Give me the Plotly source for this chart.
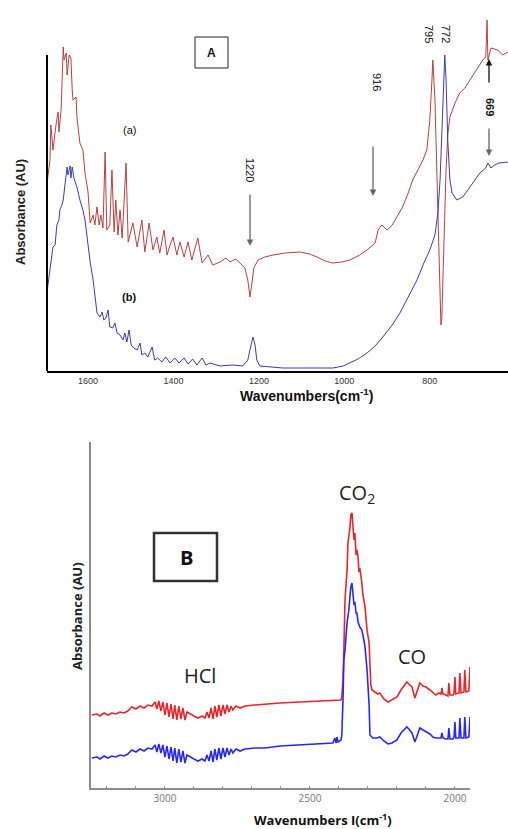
import plotly.graph_objects as go

W, H = 508, 829

# ---------------- Panel A data (wavenumber cm-1, absorbance AU) ----------------
a_red_wn = [1696, 1689, 1687, 1682, 1675, 1670, 1668, 1663, 1658, 1656, 1651, 1649, 1644, 1640, 1637, 1635,
            1628, 1626, 1619, 1612, 1607, 1600, 1595, 1588, 1584, 1579, 1574, 1570, 1565, 1560, 1556, 1549,
            1544, 1539, 1535, 1530, 1525, 1520, 1511, 1506, 1495, 1485, 1474, 1467, 1457, 1448, 1439, 1432,
            1422, 1415, 1408, 1401, 1392, 1385, 1375, 1366, 1357, 1343, 1333, 1319, 1308, 1291, 1277, 1268,
            1254, 1244, 1233, 1226, 1221, 1216, 1212, 1202, 1186, 1167, 1139, 1104, 1081, 1064, 1045, 1027,
            1006, 987, 964, 947, 928, 921, 912, 905, 900, 888, 877, 865, 854, 840, 828, 816,
            807, 800, 795, 793, 788, 784, 779, 774, 772, 767, 762, 758, 753, 741, 730, 718,
            706, 690, 676, 669, 666, 664, 657, 641, 630, 617]
a_red_abs = [187, 210, 245, 220, 245, 258, 238, 260, 323, 310, 317, 295, 315, 312, 280, 270,
             273, 253, 227, 220, 197, 178, 147, 155, 145, 163, 145, 155, 142, 218, 140, 145,
             200, 138, 170, 135, 160, 132, 207, 128, 147, 123, 150, 118, 147, 120, 133, 117,
             140, 115, 125, 133, 115, 128, 113, 128, 110, 132, 107, 115, 105, 108, 112, 108,
             111, 107, 102, 90, 73, 88, 102, 110, 113, 115, 117, 118, 116, 113, 109, 107,
             108, 110, 115, 120, 127, 140, 145, 142, 140, 145, 153, 162, 173, 190, 200, 210,
             220, 250, 290, 310, 270, 200, 110, 45, 50, 140, 200, 235, 253, 267, 277, 282,
             290, 302, 310, 313, 350, 310, 322, 320, 315, 318]

a_blue_wn = [1696, 1691, 1687, 1682, 1677, 1673, 1668, 1666, 1661, 1658, 1654, 1649, 1647, 1642, 1640, 1637,
             1633, 1626, 1619, 1612, 1607, 1600, 1595, 1588, 1584, 1579, 1572, 1567, 1563, 1558, 1553, 1549,
             1542, 1537, 1532, 1525, 1518, 1514, 1509, 1504, 1499, 1493, 1485, 1478, 1474, 1467, 1460, 1450,
             1444, 1437, 1427, 1418, 1408, 1397, 1387, 1375, 1366, 1355, 1345, 1333, 1324, 1315, 1291, 1261,
             1238, 1226, 1221, 1214, 1209, 1205, 1198, 1144, 1081, 1027, 1003, 987, 968, 947, 928, 910,
             888, 870, 851, 830, 814, 800, 788, 781, 776, 772, 767, 765, 762, 758, 753, 748,
             737, 723, 706, 683, 669, 664, 661, 657, 648, 638, 617]
a_blue_abs = [78, 95, 108, 123, 125, 145, 150, 160, 165, 170, 185, 203, 195, 204, 192, 203,
              192, 183, 170, 160, 150, 123, 108, 90, 75, 57, 53, 58, 50, 52, 60, 43,
              42, 47, 37, 35, 30, 37, 28, 40, 25, 22, 20, 27, 15, 17, 13, 23,
              10, 12, 8, 13, 7, 12, 7, 12, 6, 11, 5, 12, 5, 7, 4, 5,
              4, 10, 20, 33, 25, 10, 4, 2, 2, 2, 4, 7, 11, 17, 24, 33,
              45, 57, 72, 90, 107, 120, 135, 157, 190, 240, 295, 315, 290, 230, 190, 177,
              170, 173, 183, 197, 202, 207, 205, 202, 205, 207, 208]

a_ticks = [1600, 1400, 1200, 1000, 800]

# ---------------- Panel B data ----------------
b_red_wn = [3252, 3234, 3224, 3210, 3197, 3183, 3169, 3155, 3141, 3128, 3114, 3100, 3086, 3072, 3059, 3045,
            3034, 3028, 3021, 3014, 3007, 3000, 2993, 2986, 2979, 2972, 2966, 2959, 2952, 2945, 2938, 2931,
            2924, 2914, 2900, 2886, 2872, 2862, 2855, 2848, 2841, 2834, 2828, 2821, 2814, 2807, 2800, 2793,
            2786, 2779, 2772, 2766, 2755, 2741, 2724, 2690, 2655, 2603, 2534, 2466, 2414, 2393, 2390, 2386,
            2383, 2379, 2372, 2369, 2362, 2359, 2355, 2352, 2348, 2345, 2341, 2338, 2334, 2331, 2328, 2321,
            2317, 2310, 2303, 2296, 2293, 2290, 2286, 2276, 2266, 2259, 2245, 2231, 2217, 2200, 2186, 2172,
            2166, 2159, 2148, 2138, 2128, 2121, 2110, 2100, 2086, 2076, 2066, 2055, 2048, 2045, 2041, 2031,
            2024, 2021, 2017, 2007, 2003, 2000, 1997, 1986, 1983, 1979, 1969, 1966, 1962, 1952, 1948]
b_red_abs = [75, 76, 74, 77, 75, 77, 76, 78, 77, 79, 83, 81, 84, 82, 85, 84,
             88, 81, 89, 79, 88, 75, 87, 73, 86, 71, 85, 70, 84, 71, 82, 70,
             78, 76, 74, 72, 74, 72, 78, 72, 82, 71, 84, 73, 85, 74, 85, 76,
             85, 78, 84, 80, 84, 82, 84, 85, 86, 87, 88, 89, 90, 90, 93, 110,
             140, 190, 220, 247, 262, 275, 277, 262, 250, 257, 235, 240, 233, 218, 222, 207,
             195, 183, 160, 147, 120, 105, 100, 98, 96, 97, 91, 88, 90, 93, 100, 106,
             108, 106, 103, 92, 100, 107, 104, 103, 100, 97, 95, 97, 96, 102, 96, 95,
             94, 107, 95, 95, 97, 113, 96, 97, 117, 97, 98, 120, 98, 99, 123]

b_blue_wn = [3252, 3234, 3224, 3210, 3197, 3183, 3169, 3155, 3141, 3128, 3114, 3100, 3086, 3072, 3059, 3045,
             3034, 3028, 3021, 3014, 3007, 3000, 2993, 2986, 2979, 2972, 2966, 2959, 2952, 2945, 2938, 2931,
             2924, 2914, 2900, 2886, 2872, 2862, 2855, 2848, 2841, 2834, 2828, 2821, 2814, 2807, 2800, 2793,
             2786, 2779, 2772, 2766, 2755, 2741, 2724, 2690, 2655, 2603, 2534, 2466, 2421, 2414, 2410, 2407,
             2403, 2393, 2390, 2386, 2383, 2379, 2372, 2366, 2362, 2359, 2355, 2352, 2348, 2345, 2341, 2338,
             2334, 2328, 2321, 2314, 2310, 2303, 2296, 2293, 2283, 2269, 2259, 2245, 2231, 2217, 2200, 2186,
             2172, 2166, 2159, 2148, 2138, 2128, 2121, 2110, 2097, 2086, 2076, 2066, 2055, 2048, 2045, 2041,
             2031, 2024, 2021, 2017, 2007, 2003, 2000, 1997, 1986, 1983, 1979, 1969, 1966, 1962, 1952, 1948]
b_blue_abs = [32, 33, 31, 34, 32, 34, 33, 35, 34, 36, 40, 38, 41, 39, 42, 41,
              45, 38, 46, 37, 45, 33, 44, 31, 43, 29, 42, 27, 41, 28, 39, 27,
              35, 33, 31, 29, 31, 29, 35, 29, 39, 28, 41, 30, 42, 31, 42, 33,
              42, 35, 41, 37, 41, 39, 41, 42, 42, 44, 45, 46, 47, 52, 47, 53,
              48, 50, 55, 90, 130, 140, 167, 180, 195, 203, 207, 195, 185, 188, 177, 177,
              168, 163, 160, 150, 143, 120, 85, 55, 52, 52, 53, 49, 46, 47, 50, 57,
              62, 63, 61, 57, 48, 56, 62, 60, 58, 56, 53, 52, 52, 52, 57, 52,
              51, 51, 62, 51, 51, 53, 68, 52, 52, 72, 52, 52, 73, 52, 53, 73]

b_ticks = [3000, 2500, 2000]


def px(x):
    return x / W


def py(y):
    return 1 - y / H


fig = go.Figure()
fig.add_trace(go.Scatter(x=a_red_wn, y=a_red_abs, mode="lines", xaxis="x", yaxis="y",
                         line=dict(color="#b8403f", width=1)))
fig.add_trace(go.Scatter(x=a_blue_wn, y=a_blue_abs, mode="lines", xaxis="x", yaxis="y",
                         line=dict(color="#3c3cb4", width=1)))
fig.add_trace(go.Scatter(x=b_red_wn, y=b_red_abs, mode="lines", xaxis="x2", yaxis="y2",
                         line=dict(color="#e5262a", width=1.6)))
fig.add_trace(go.Scatter(x=b_blue_wn, y=b_blue_abs, mode="lines", xaxis="x2", yaxis="y2",
                         line=dict(color="#2828f0", width=1.6)))

ann = []


def text(x, y, t, size=12, color="#111", bold=False, angle=0, family="Liberation Sans"):
    if bold:
        t = "<b>" + t + "</b>"
    ann.append(dict(x=px(x), y=py(y), xref="paper", yref="paper", text=t, showarrow=False,
                    xanchor="center", yanchor="middle", textangle=angle,
                    font=dict(size=size, color=color, family=family)))


def arrow(x, y, dy, color="#666"):
    ann.append(dict(x=px(x), y=py(y), xref="paper", yref="paper", text="", showarrow=True,
                    ax=0, ay=dy, arrowhead=2, arrowsize=1, arrowwidth=1.3, arrowcolor=color))


# Panel A texts
text(20, 212, "Absorbance (AU)", size=13, bold=True, angle=-90, color="#222")
text(306, 395, "Wavenumbers(cm<sup>-1</sup>)", size=14, bold=True, color="#111")
text(211, 53, "A", size=12, bold=True)
text(129, 130, "(a)", size=11)
text(129, 297, "(b)", size=11, bold=True)
text(250, 170, "1220", size=11, angle=90)
text(377, 82, "916", size=11, angle=90)
text(429, 34, "795", size=11, angle=90)
text(446, 34, "772", size=11, angle=90)
text(490, 107, "669", size=11, angle=90, bold=True)
arrow(250, 246, -53)
arrow(373, 196, -51)
arrow(489, 156, -29)
arrow(489, 59, 25, color="#111")

# Panel B texts
text(77, 616, "Absorbance (AU)", size=13, bold=True, angle=-90, color="#222", family="Open Sans")
text(323, 819, "Wavenumbers I(cm<sup>-1</sup>)", size=13, bold=True, color="#111", family="Open Sans")
text(186, 557, "B", size=20, bold=True, family="Open Sans")
text(357, 493, "CO<sub>2</sub>", size=20, color="#222", family="Open Sans")
text(412, 656, "CO", size=20, color="#222", family="Open Sans")
text(200, 675, "HCl", size=20, color="#222", family="Open Sans")

shapes = [
    dict(type="rect", xref="paper", yref="paper", x0=px(195), x1=px(228), y0=py(37), y1=py(68),
         line=dict(color="#222", width=1)),
    dict(type="rect", xref="paper", yref="paper", x0=px(154), x1=px(217), y0=py(533), y1=py(581),
         line=dict(color="#333", width=2.5)),
    dict(type="line", xref="x domain", yref="y", x0=0, x1=0, y0=-1, y1=315,
         line=dict(color="#000", width=2)),
]

fig.update_layout(
    width=W, height=H, margin=dict(l=0, r=0, t=0, b=0),
    paper_bgcolor="white", plot_bgcolor="white", showlegend=False,
    annotations=ann, shapes=shapes,
    xaxis=dict(domain=[px(47), 1.0], range=[1696, 617], anchor="y", showgrid=False, zeroline=False,
               showline=True, linecolor="#000", linewidth=2, tickvals=a_ticks, ticks="",
               tickfont=dict(size=9, color="#333", family="Liberation Sans")),
    yaxis=dict(domain=[py(371), py(18)], range=[-1, 352], anchor="x", visible=False,
               showgrid=False, zeroline=False),
    xaxis2=dict(domain=[px(91), px(470)], range=[3255, 1948], anchor="y2", showgrid=False, zeroline=False,
                showline=True, linecolor="#8c8c8c", linewidth=2, tickvals=b_ticks, ticks="",
                tickfont=dict(size=10, color="#777", family="Open Sans"),
                minor=dict(dtick=100, ticks="inside", ticklen=2, tickcolor="#999")),
    yaxis2=dict(domain=[py(788), py(442)], range=[2, 348], anchor="x2", showgrid=False, zeroline=False,
                showline=True, linecolor="#8c8c8c", linewidth=2, showticklabels=False, ticks=""),
)

fig.write_html("out.html", config={"displayModeBar": False},
               post_script="document.body.style.margin='0px';document.body.style.overflow='hidden';")
